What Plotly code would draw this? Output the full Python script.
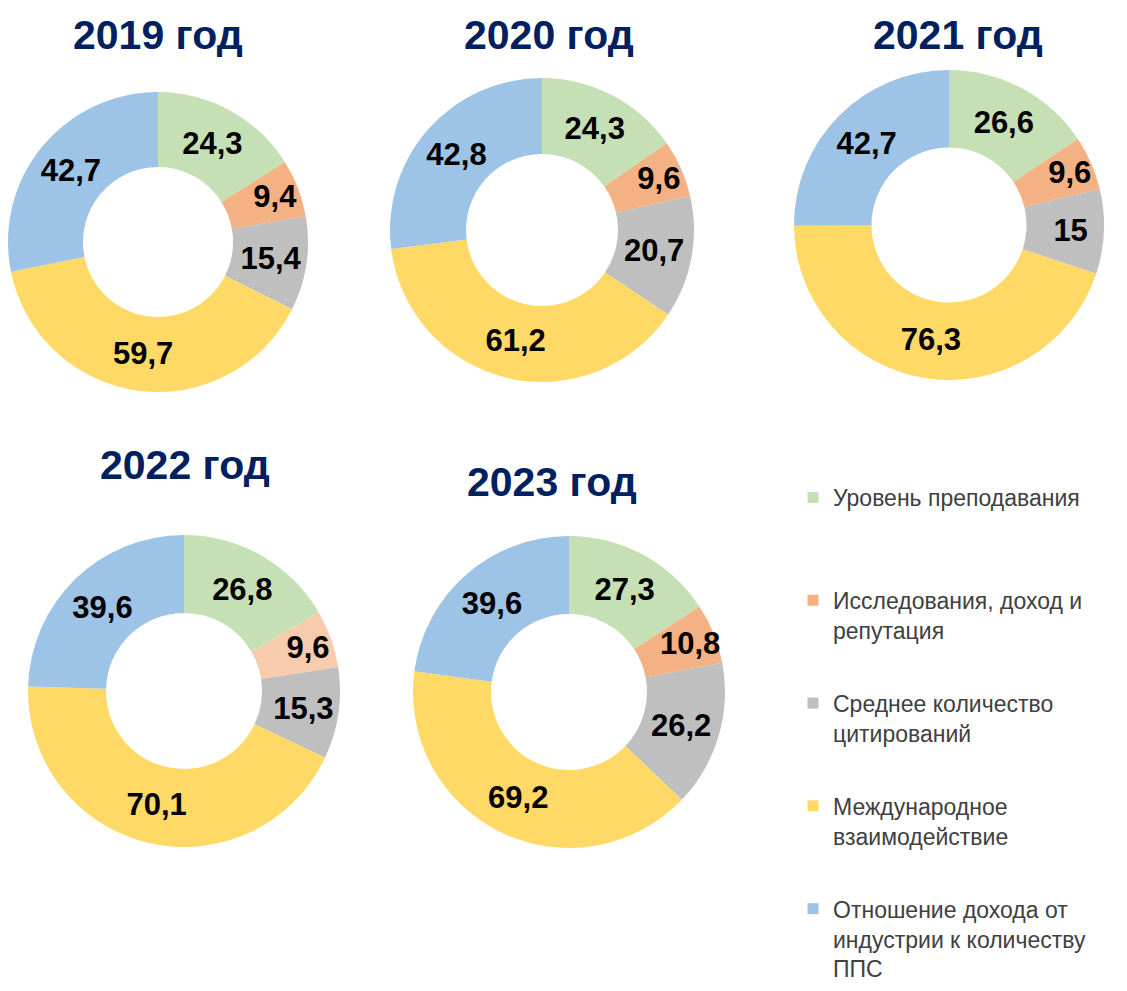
import plotly.graph_objects as go

categories = [
    "Уровень преподавания",
    "Исследования, доход и<br>репутация",
    "Среднее количество<br>цитирований",
    "Международное<br>взаимодействие",
    "Отношение дохода от<br>индустрии к количеству<br>ППС",
]
years = ["2019 год", "2020 год", "2021 год", "2022 год", "2023 год"]
values_2019 = [24.3, 9.4, 15.4, 59.7, 42.7]
values_2020 = [24.3, 9.6, 20.7, 61.2, 42.8]
values_2021 = [26.6, 9.6, 15, 76.3, 42.7]
values_2022 = [26.8, 9.6, 15.3, 70.1, 39.6]
values_2023 = [27.3, 10.8, 26.2, 69.2, 39.6]

# page body has an 8px margin, so the figure is 16px smaller than the window
OFF = 8
W, H = 1127 - 2 * OFF, 991 - 2 * OFF
GREEN, ORANGE, GRAY, YELLOW, BLUE = "#C5E0B4", "#F4B183", "#BFBFBF", "#FFD966", "#9DC3E6"
NAVY = "#002060"


def fx(px):
    return (px - OFF) / W


def fy(py):
    return 1 - (py - OFF) / H


def px_domain(cx, cy, r):
    # keep the domain inside the figure (the leftmost donut touches the edge)
    r = min(r, cx - OFF, OFF + W - cx)
    return dict(x=[fx(cx - r), fx(cx + r)], y=[fy(cy + r), fy(cy - r)])


# (values, pie centre/radius in page px, title centre in page px, colours)
charts = [
    (values_2019, (158, 242, 152), (158, 35), [GREEN, ORANGE, GRAY, YELLOW, BLUE]),
    (values_2020, (542, 230, 152), (549, 35), [GREEN, ORANGE, GRAY, YELLOW, BLUE]),
    (values_2021, (949, 225, 155), (958, 35), [GREEN, ORANGE, GRAY, YELLOW, BLUE]),
    (values_2022, (184, 691, 156), (185, 465), [GREEN, "#F8CBAD", GRAY, YELLOW, BLUE]),
    (values_2023, (569, 692, 156), (552, 482), [GREEN, ORANGE, GRAY, YELLOW, BLUE]),
]

fig = go.Figure()
annotations = []
for year, (vals, (cx, cy, r), (tx, ty), colors) in zip(years, charts):
    fig.add_trace(go.Pie(
        labels=categories, values=vals, hole=0.5, sort=False, direction="clockwise",
        rotation=0, domain=px_domain(cx, cy, r),
        marker=dict(colors=colors, line=dict(width=0)),
        texttemplate="%{value:,.1~f}", textposition="inside",
        insidetextorientation="horizontal",
        textfont=dict(family="Liberation Sans", size=31, color="black", weight="bold"),
        showlegend=False, hoverinfo="label+value",
    ))
    annotations.append(dict(
        text=f"<b>{year}</b>", x=fx(tx), y=fy(ty), xref="paper", yref="paper",
        xanchor="center", yanchor="middle", showarrow=False,
        font=dict(family="Liberation Sans", size=41, color=NAVY),
    ))

# legend entries as dummy traces so each gets its own group gap
legend_names = list(categories)
legend_names[0] = legend_names[0] + "<br> "
for name, color in zip(legend_names, [GREEN, ORANGE, GRAY, YELLOW, BLUE]):
    fig.add_trace(go.Scatter(
        x=[None], y=[None], mode="markers", name=name, legendgroup=name,
        marker=dict(symbol="square", size=11, color=color),
    ))

fig.update_layout(
    width=W, height=H,
    margin=dict(l=0, r=0, t=0, b=0, autoexpand=False),
    paper_bgcolor="white", plot_bgcolor="white",
    separators=", ",
    annotations=annotations,
    uniformtext=dict(minsize=31, mode="show"),
    xaxis=dict(visible=False), yaxis=dict(visible=False),
    showlegend=True,
    legend=dict(
        x=fx(793), y=fy(476), xanchor="left", yanchor="top",
        valign="top", tracegroupgap=40, itemwidth=30,
        font=dict(family="Liberation Sans", size=23, color="#404040"),
        bgcolor="rgba(0,0,0,0)",
    ),
)
fig.write_html("out.html")
